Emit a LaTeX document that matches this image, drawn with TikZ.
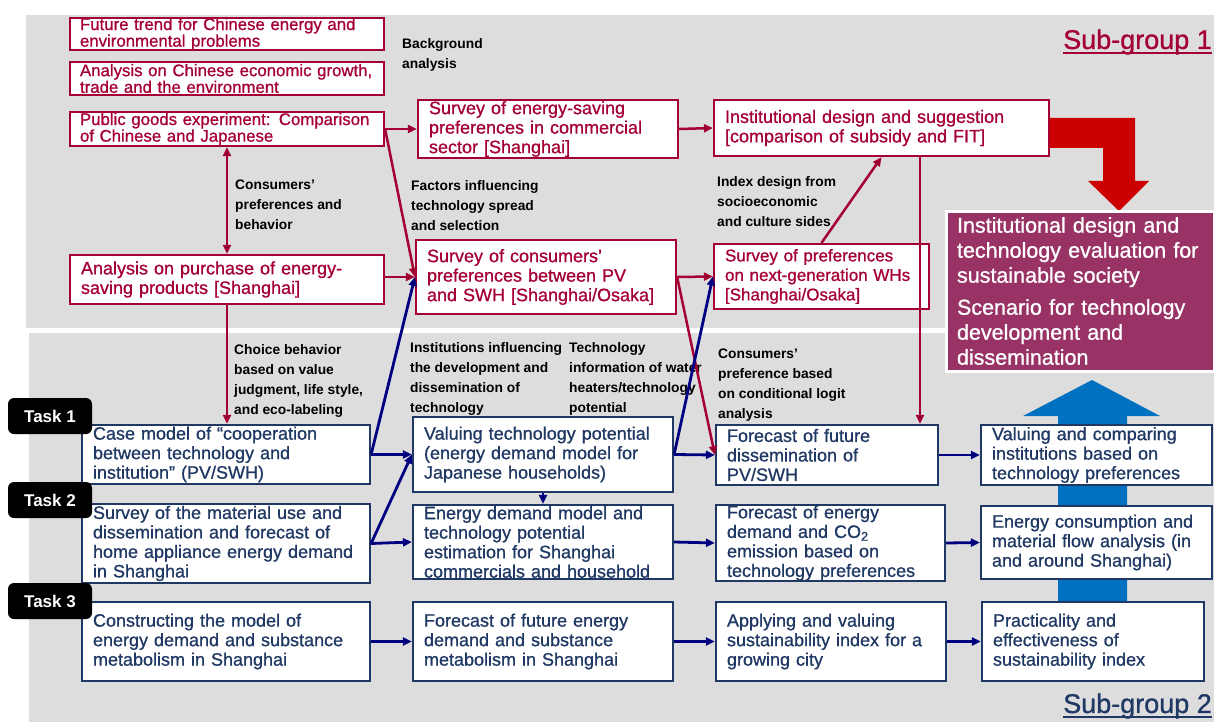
\documentclass[tikz,border=0pt]{standalone}
\usepackage{fontspec}
\setmainfont{Liberation Sans}
\newfontfamily\boxfont{Liberation Sans}[FakeBold=0.9]
\usepackage{xcolor}
\usetikzlibrary{arrows.meta}
\definecolor{redc}{HTML}{A50034}
\definecolor{navyt}{HTML}{1F3864}
\definecolor{navyln}{HTML}{000080}
\definecolor{purp}{HTML}{993366}
\definecolor{grayb}{HTML}{DDDDDD}
\definecolor{bigred}{HTML}{CC0000}
\definecolor{bigblue}{HTML}{0070C0}
\tikzset{
    rbox/.style={draw=redc, line width=2.2pt, fill=white, text=redc, inner xsep=11pt, inner ysep=0pt, align=left, font=\boxfont\fontsize{18}{19.5}\selectfont},
    bbox/.style={rbox, draw=navyt, text=navyt},
    tasktag/.style={fill=black, rounded corners=6pt, text=white, inner sep=0pt, minimum width=84pt, minimum height=36pt, font=\bfseries\fontsize{17}{20}\selectfont},
    lbl/.style={anchor=north west, inner sep=0pt, align=left, font=\bfseries\fontsize{13.8}{20}\selectfont},
    rln/.style={draw=redc, line width=2.5pt},
    bln/.style={draw=navyln, line width=2.8pt}
}

\begin{document}
\begin{tikzpicture}[x=1pt, y=-1pt, >={Triangle[length=9pt, width=8pt]}]
                        \fill[white] (0, 0) rectangle (1214, 722);
                        \useasboundingbox (0, 0) rectangle (1214, 722);
                        \fill[grayb] (26, 15) rectangle (1214, 328);
                        \fill[grayb] (29, 333) rectangle (1214, 722);

                        \fill[bigred] (1049, 118) -- (1135, 118) -- (1135, 181) -- (1149, 181) -- (1119, 211)
                        -- (1088, 181) -- (1103, 181) -- (1103, 148) -- (1049, 148) -- cycle;
                        \fill[bigblue] (1058, 602) -- (1058, 416) -- (1023, 416) -- (1092, 380)
                        -- (1160, 416) -- (1127, 416) -- (1127, 602) -- cycle;

                        \node[rbox, font=\boxfont\fontsize{16.8}{15}\selectfont, inner xsep=10pt, text width=294, minimum height=32] (b1) at (227, 34) {Future trend for Chinese energy and\\environmental problems};
                        \node[rbox, font=\boxfont\fontsize{16.8}{15}\selectfont, inner xsep=10pt, text width=294, minimum height=33] (b2) at (227, 78.5) {Analysis on Chinese economic growth,\\trade and the environment};
                        \node[rbox, font=\boxfont\fontsize{16.8}{15}\selectfont, inner xsep=10pt, text width=294, minimum height=34] (b3) at (227, 129) {Public goods experiment: Comparison\\of Chinese and Japanese};
                        \node[rbox, text width=292, minimum height=49] (b4) at (227, 279.5) {Analysis on purchase of energy-\\saving products [Shanghai]};
                        \node[rbox, text width=238, minimum height=58] (b5) at (548, 129) {Survey of energy-saving\\preferences in commercial\\sector [Shanghai]};
                        \node[rbox, text width=238, minimum height=74] (b6) at (546, 277) {Survey of consumers’\\preferences between PV\\and SWH [Shanghai/Osaka]};
                        \node[rbox, text width=313, minimum height=56] (b7) at (881.5, 128) {Institutional design and suggestion\\{}[comparison of subsidy and FIT]};
                        \node[rbox, font=\boxfont\fontsize{17}{19.5}\selectfont, text width=193, minimum height=65] (b8) at (821.5, 276.5) {Survey of preferences\\on next-generation WHs\\{}[Shanghai/Osaka]};

                        \node[draw=white, line width=3pt, fill=purp, text=white, inner xsep=11pt, inner ysep=0pt, align=left, text width=246, minimum height=160, font=\boxfont\fontsize{21.5}{25}\selectfont] (goal) at (1080, 291) {Institutional design and\\technology evaluation for\\sustainable society\\[7pt]Scenario for technology\\development and\\dissemination};

                        \node[bbox, text width=266, minimum height=59] (c1) at (226, 454.5) {Case model of “cooperation\\between technology and\\institution” (PV/SWH)};
                        \node[bbox, text width=238, minimum height=75] (c2) at (543, 454.5) {Valuing technology potential\\(energy demand model for\\Japanese households)};
                        \node[bbox, text width=200, minimum height=60] (c3) at (827, 455) {Forecast of future\\dissemination of\\PV/SWH};
                        \node[bbox, text width=209, minimum height=60] (c4) at (1096.5, 455) {Valuing and comparing\\institutions based on\\technology preferences};

                        \node[bbox, text width=266, minimum height=79] (d1) at (226, 543.5) {Survey of the material use and\\dissemination and forecast of\\home appliance energy demand\\in Shanghai};
                        \node[bbox, text width=238, minimum height=74] (d2) at (543, 542) {Energy demand model and\\technology potential\\estimation for Shanghai\\commercials and household};
                        \node[bbox, text width=207, minimum height=74] (d3) at (830.5, 543) {Forecast of energy\\demand and CO\textsubscript{2}\\emission based on\\technology preferences};
                        \node[bbox, text width=209, minimum height=73] (d4) at (1096.5, 542.5) {Energy consumption and\\material flow analysis (in\\and around Shanghai)};

                        \node[bbox, text width=266, minimum height=79] (e1) at (226, 641.5) {Constructing the model of\\energy demand and substance\\metabolism in Shanghai};
                        \node[bbox, text width=238, minimum height=79] (e2) at (543, 641.5) {Forecast of future energy\\demand and substance\\metabolism in Shanghai};
                        \node[bbox, text width=208, minimum height=79] (e3) at (831, 641.5) {Applying and valuing\\sustainability index for a\\growing city};
                        \node[bbox, text width=200, minimum height=79] (e4) at (1093, 641.5) {Practicality and\\effectiveness of\\sustainability index};

                        \node[tasktag] (t1) at (50, 416) {Task 1};
                        \node[tasktag] (t2) at (50, 500) {Task 2};
                        \node[tasktag] (t3) at (50, 601) {Task 3};

                        \node[lbl] (bga) at (402, 38) {Background\\analysis};
                        \node[lbl] (cpb) at (235, 180) {Consumers’\\preferences and\\behavior};
                        \node[lbl] (fac) at (411, 180) {Factors influencing\\technology spread\\and selection};
                        \node[lbl] (idx) at (717, 176) {Index design from\\socioeconomic\\and culture sides};
                        \node[lbl] (cho) at (234, 344) {Choice behavior\\based on value\\judgment, life style,\\and eco-labeling};
                        \node[lbl] (ins) at (410, 342) {Institutions influencing\\the development and\\dissemination of\\technology};
                        \node[lbl] (tec) at (569, 342) {Technology\\information of water\\heaters/technology\\potential};
                        \node[lbl] (clg) at (718, 349) {Consumers’\\preference based\\on conditional logit\\analysis};

                        \draw[rln]
                        (b3.south) edge[<->] (b4.north)
                        (b3.east) edge[->] (b5.west)
                        (b3.east) edge[->] (b6.west)
                        (b6.west -| b4.east) edge[->] (b6.west)
                        (b5.east) edge[->] (b7.west)
                        (b6.east) edge[->] (b8.west)
                        (b6.east) edge[->] (c3.west)
                        (b8.north) edge[->] (b7.south)
                        ([xshift=38.5pt]b7.south) edge[->] ([xshift=38.5pt]b7.south |- c3.north)
                        (b4.south) edge[->] (b4.south |- c1.north);

                        \draw[bln]
                        (c1.east) edge[->] (c2.west)
                        (c1.east) edge[->] (b6.west)
                        (d1.east) edge[->] (d2.west)
                        (d1.east) edge[->] (c2.west)
                        (c2.south) edge[->] (d2.north)
                        (c2.east) edge[->] (c3.west)
                        (c2.east) edge[->] (b8.west)
                        (d2.east) edge[->] (d3.west)
                        (c3.east) edge[->] (c4.west)
                        (d3.east) edge[->] (d4.west)
                        (e1.east) edge[->] (e2.west)
                        (e2.east) edge[->] (e3.west)
                        (e3.east) edge[->] (e4.west);

                        \node[anchor=east, inner sep=0pt, text=redc, font=\boxfont\fontsize{27}{30}\selectfont] (sg1) at (1212, 42) {Sub-group 1};
                        \node[anchor=east, inner sep=0pt, text=navyt, font=\boxfont\fontsize{27}{30}\selectfont] (sg2) at (1212, 706) {Sub-group 2};
                        \draw[redc, line width=2pt] ([yshift=-4pt]sg1.base west) -- ([yshift=-4pt]sg1.base east);
                        \draw[navyt, line width=2pt] ([yshift=-4pt]sg2.base west) -- ([yshift=-4pt]sg2.base east);
\end{tikzpicture}
\end{document}
